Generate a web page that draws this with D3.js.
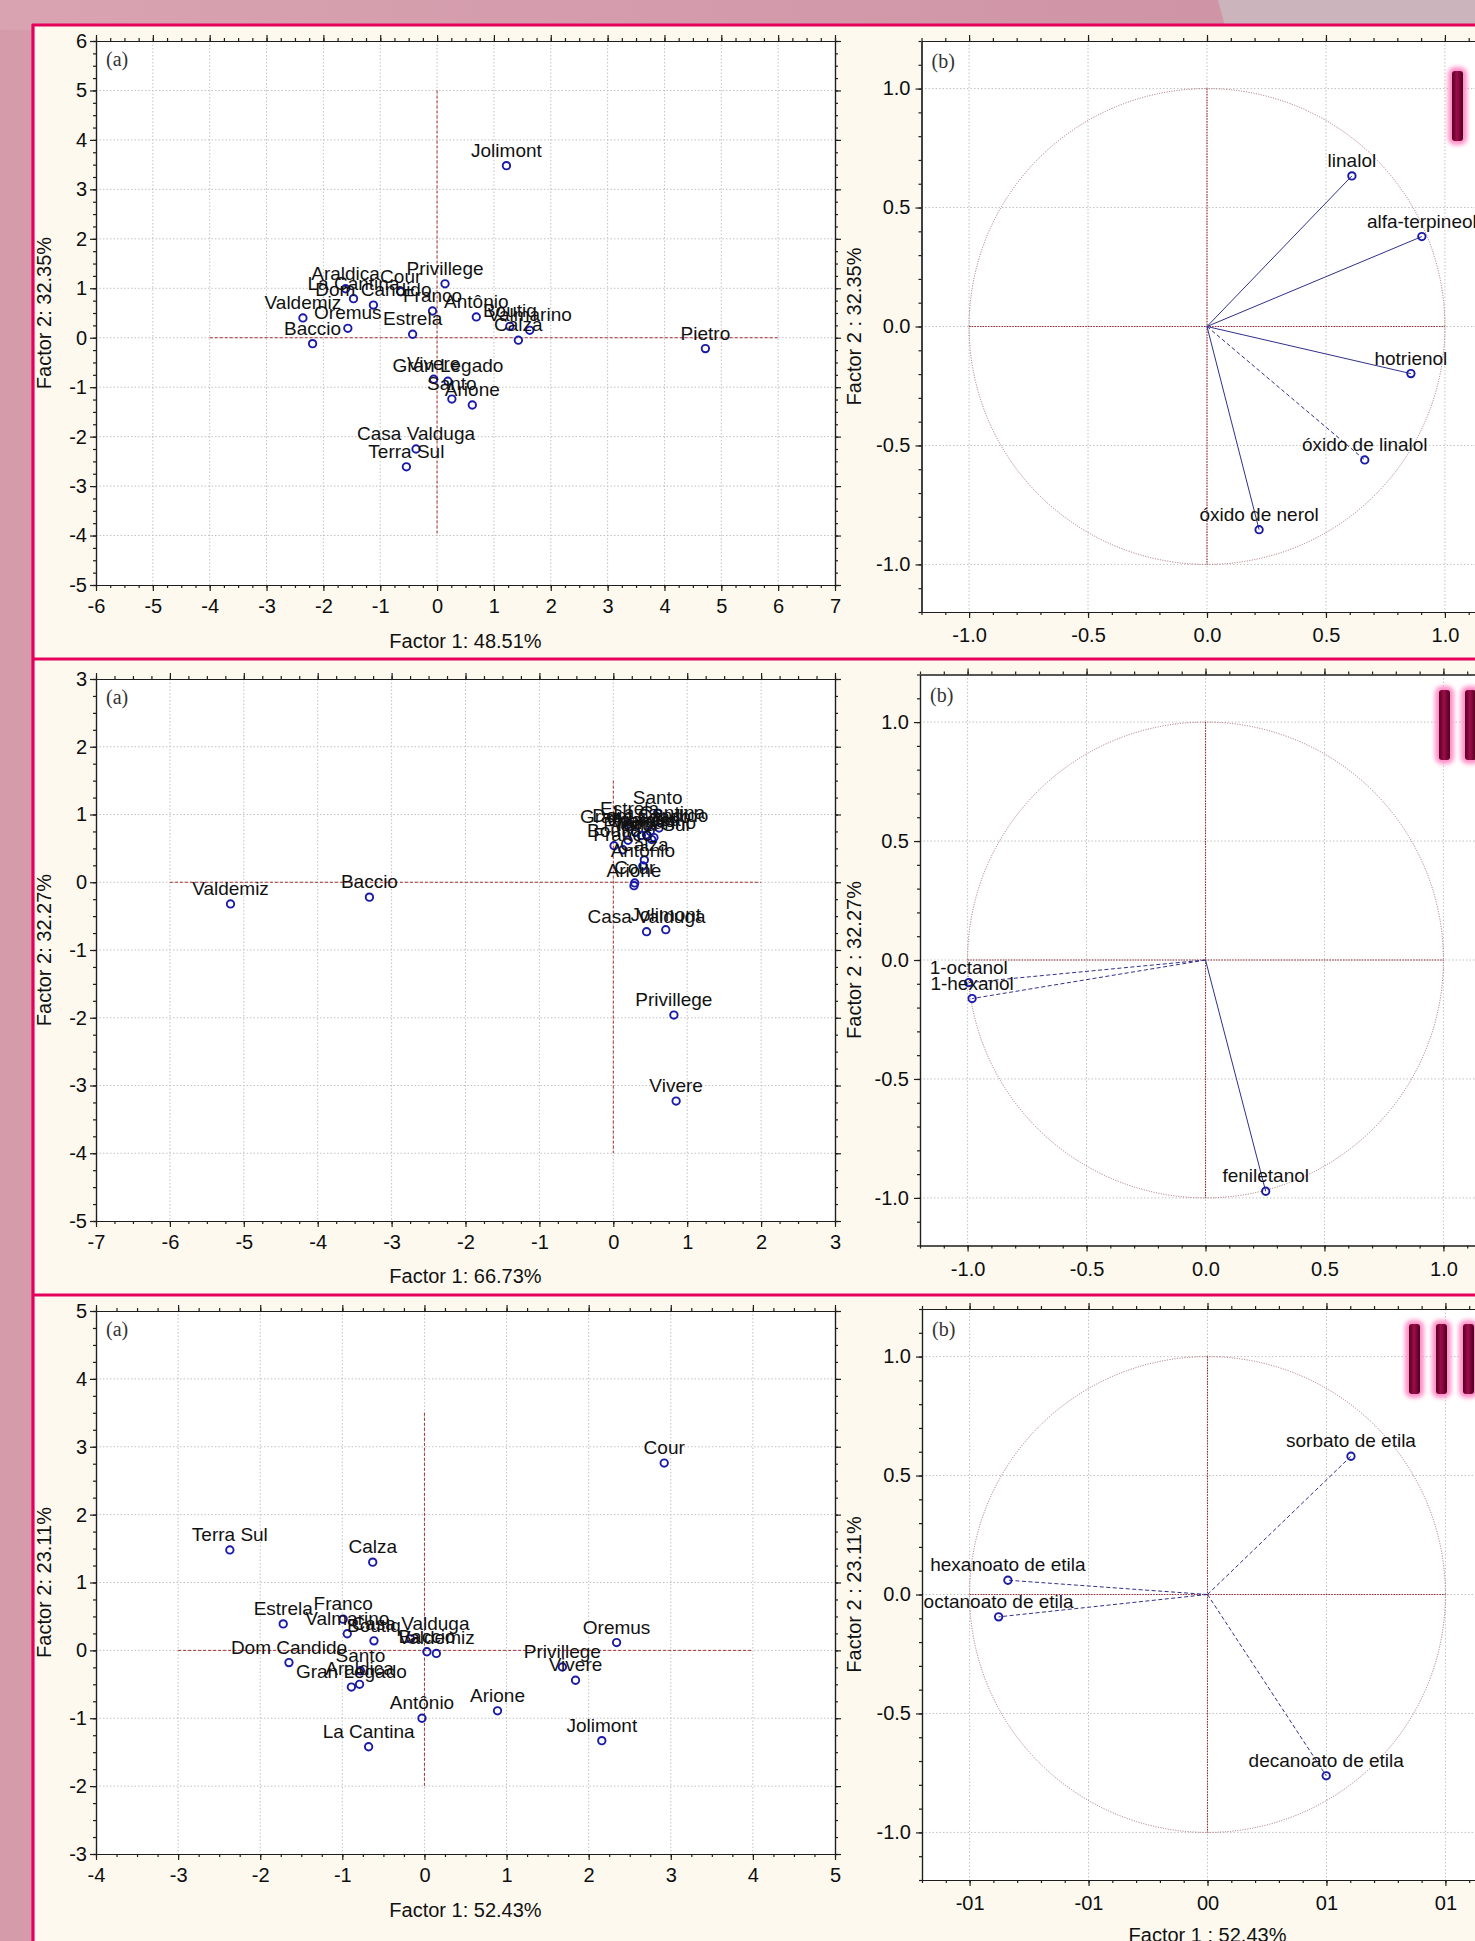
<!DOCTYPE html>
<html>
<head>
<meta charset="utf-8">
<title>PCA scores and loadings</title>
<script src="https://d3js.org/d3.v7.min.js"></script>
<style>
  body { margin: 0; background: #d59bab; }
  svg { display: block; font-family: "Liberation Sans", Arial, sans-serif; }
  .tick text { font-size: 20px; fill: #0e0e0e; }
  .axis path, .axis line { stroke: #1e1e1e; stroke-width: 1.2px; }
  .grid line { stroke: #c2c2c2; stroke-width: 1px; stroke-dasharray: 1.5, 2; }
  .ref { stroke: #a33434; stroke-width: 1px; stroke-dasharray: 3, 2; fill: none; }
  .pt { fill: none; stroke: #1a1aa8; stroke-width: 1.9px; }
  .lbl { font-size: 19px; fill: #111; text-anchor: middle; }
  .title { font-size: 20px; fill: #111; text-anchor: middle; }
  .tag { font-family: "Liberation Serif", "DejaVu Serif", serif; font-size: 20px; fill: #333; }
  .load { stroke: #30308a; stroke-width: 1px; fill: none; }
</style>
</head>
<body>
<div id="chart"></div>
<script>
// ---------- panel I : scores ----------
const winesI = ["Jolimont", "Pietro", "Privillege", "Araldica", "La Cantina", "Dom Candido", "Cour",
  "Franco", "Antônio", "Estrela", "Valdemiz", "Oremus", "Baccio", "Boutiq", "Valmarino", "Calza",
  "Gran Legado", "Vivere", "Santo", "Arione", "Casa Valduga", "Terra Sul"];
const f1I = [1.22, 4.72, 0.14, -1.61, -1.47, -1.12, -0.64, -0.08, 0.69, -0.43, -2.36, -1.57, -2.19,
  1.28, 1.63, 1.43, 0.19, -0.06, 0.26, 0.62, -0.37, -0.54];
const f2I = [3.48, -0.22, 1.09, 0.99, 0.79, 0.66, 0.93, 0.54, 0.42, 0.07, 0.40, 0.19, -0.12,
  0.23, 0.15, -0.05, -0.88, -0.84, -1.24, -1.36, -2.25, -2.61];

// ---------- panel II : scores ----------
const winesII = ["Valdemiz", "Baccio", "Privillege", "Vivere", "Casa Valduga", "Jolimont", "Santo",
  "Estrela", "La Cantina", "Gran Legado", "Oremus", "Dom Candido", "Araldica", "Valmarino", "Pietro",
  "Terra Sul", "Boutiq", "Franco", "Antônio", "Calza", "Cour", "Arione"];
const f1II = [-5.18, -3.30, 0.82, 0.85, 0.45, 0.71, 0.60, 0.22, 0.62, 0.30, 0.38, 0.50, 0.45, 0.55,
  0.20, 0.52, 0.01, 0.13, 0.40, 0.42, 0.29, 0.28];
const f2II = [-0.32, -0.22, -1.96, -3.23, -0.73, -0.70, 1.02, 0.86, 0.80, 0.74, 0.69, 0.75, 0.70, 0.66,
  0.62, 0.63, 0.54, 0.48, 0.24, 0.33, -0.01, -0.05];

// ---------- panel III : scores ----------
const winesIII = ["Cour", "Terra Sul", "Calza", "Estrela", "Franco", "Valmarino", "Boutiq", "Casa Valduga",
  "Baccio", "Valdemiz", "Dom Candido", "Santo", "Araldica", "Gran Legado", "Antônio", "La Cantina",
  "Arione", "Privillege", "Vivere", "Oremus", "Jolimont"];
const f1III = [2.92, -2.37, -0.63, -1.72, -0.99, -0.94, -0.615, -0.17, 0.03, 0.145, -1.65, -0.78, -0.79,
  -0.89, -0.03, -0.68, 0.89, 1.68, 1.84, 2.34, 2.16];
const f2III = [2.76, 1.48, 1.30, 0.39, 0.46, 0.245, 0.14, 0.17, -0.02, -0.045, -0.18, -0.30, -0.50,
  -0.54, -1.00, -1.42, -0.89, -0.245, -0.44, 0.115, -1.33];

// ---------- loadings ----------
const varsI = ["linalol", "alfa-terpineol", "hotrienol", "óxido de linalol", "óxido de nerol"];
const l1I = [0.609, 0.903, 0.857, 0.663, 0.219];
const l2I = [0.633, 0.378, -0.198, -0.561, -0.854];
const dashI = [false, false, false, true, false];

const varsII = ["1-octanol", "1-hexanol", "feniletanol"];
const l1II = [-0.995, -0.981, 0.253];
const l2II = [-0.095, -0.162, -0.972];
const dashII = [true, true, false];

const varsIII = ["sorbato de etila", "hexanoato de etila", "octanoato de etila", "decanoato de etila"];
const l1III = [0.603, -0.839, -0.878, 0.499];
const l2III = [0.581, 0.060, -0.094, -0.762];
const dashIII = [true, true, true, true];

// axis texts
const scoreXTitles = ["Factor 1: 48.51%", "Factor 1: 66.73%", "Factor 1: 52.43%"];
const scoreYTitles = ["Factor 2: 32.35%", "Factor 2: 32.27%", "Factor 2: 23.11%"];
const loadYTitles = ["Factor 2 : 32.35%", "Factor 2 : 32.27%", "Factor 2 : 23.11%"];
const loadTickVals = [-1, -0.5, 0, 0.5, 1];
const loadXLabelsIII = ["-01", "-01", "00", "01", "01"];

const W = 1475, H = 1941;
const svg = d3.select("#chart").append("svg").attr("width", W).attr("height", H);
const defs = svg.append("defs");

// page background
const bg = defs.append("linearGradient").attr("id", "bgTop").attr("x1", 0).attr("x2", 1);
bg.append("stop").attr("offset", "0").attr("stop-color", "#d9a3b1");
bg.append("stop").attr("offset", "0.8").attr("stop-color", "#cf95a6");
svg.append("rect").attr("width", W).attr("height", H).attr("fill", "#d59bab");
svg.append("rect").attr("width", W).attr("height", 30).attr("fill", "url(#bgTop)");
svg.append("path").attr("d", "M1218,0 L1475,0 L1475,30 L1226,30 Z").attr("fill", "#cbb4bb");

// cream panels with magenta frames
svg.append("rect").attr("x", 33).attr("y", 25).attr("width", W).attr("height", H).attr("fill", "#fdf9ef");
const frame = svg.append("g").attr("stroke", "#e6005c").attr("stroke-width", 3.2);
[25, 659, 1295].forEach(yy => frame.append("line").attr("x1", 32).attr("x2", W).attr("y1", yy).attr("y2", yy));
frame.append("line").attr("x1", 33).attr("x2", 33).attr("y1", 24).attr("y2", H);

const glow = defs.append("filter").attr("id", "glow").attr("x", "-1").attr("y", "-1").attr("width", 3).attr("height", 3);
glow.append("feGaussianBlur").attr("stdDeviation", 2.2);
const barGrad = defs.append("linearGradient").attr("id", "barGrad").attr("x1", 0).attr("x2", 1);
barGrad.append("stop").attr("offset", "0").attr("stop-color", "#55001f");
barGrad.append("stop").attr("offset", "0.45").attr("stop-color", "#a00c4c");
barGrad.append("stop").attr("offset", "1").attr("stop-color", "#4a001c");

function frameAxes(g, x, y, box, o) {
  const ax = (axis, tr) => g.append("g").attr("class", "axis").attr("transform", tr).call(axis);
  ax(d3.axisBottom(x).tickValues(o.minX).tickSize(3).tickSizeOuter(0).tickFormat(""), `translate(0,${box.y1})`);
  ax(d3.axisTop(x).tickValues(o.minX).tickSize(3).tickSizeOuter(0).tickFormat(""), `translate(0,${box.y0})`);
  ax(d3.axisLeft(y).tickValues(o.minY).tickSize(3).tickSizeOuter(0).tickFormat(""), `translate(${box.x0},0)`);
  ax(d3.axisRight(y).tickValues(o.minY).tickSize(3).tickSizeOuter(0).tickFormat(""), `translate(${box.x1},0)`);
  ax(d3.axisBottom(x).tickValues(o.majX).tickSize(6).tickSizeOuter(0).tickPadding(o.padX).tickFormat(o.fmtX), `translate(0,${box.y1})`);
  ax(d3.axisTop(x).tickValues(o.majX).tickSize(6).tickSizeOuter(0).tickFormat(""), `translate(0,${box.y0})`);
  ax(d3.axisLeft(y).tickValues(o.majY).tickSize(6).tickSizeOuter(0).tickPadding(o.padY).tickFormat(o.fmtY), `translate(${box.x0},0)`);
  ax(d3.axisRight(y).tickValues(o.majY).tickSize(6).tickSizeOuter(0).tickFormat(""), `translate(${box.x1},0)`);
}

function grid(g, x, y, box, gx, gy) {
  const gg = g.append("g").attr("class", "grid");
  gg.selectAll(".gx").data(gx).join("line").attr("class", "gx")
    .attr("x1", d => x(d)).attr("x2", d => x(d)).attr("y1", box.y0).attr("y2", box.y1);
  gg.selectAll(".gy").data(gy).join("line").attr("class", "gy")
    .attr("y1", d => y(d)).attr("y2", d => y(d)).attr("x1", box.x0).attr("x2", box.x1);
}

function scorePanel(p) {
  const g = svg.append("g");
  const box = p.box;
  const x = d3.scaleLinear().domain(p.xDom).range([box.x0, box.x1]);
  const y = d3.scaleLinear().domain(p.yDom).range([box.y1, box.y0]);
  g.append("rect").attr("x", box.x0).attr("y", box.y0).attr("width", box.x1 - box.x0)
    .attr("height", box.y1 - box.y0).attr("fill", "#fff");
  const majX = d3.range(p.xDom[0], p.xDom[1] + 0.01, 1);
  const majY = d3.range(p.yDom[0], p.yDom[1] + 0.01, 1);
  grid(g, x, y, box, majX.slice(1, -1), majY.slice(1, -1));
  g.append("line").attr("class", "ref").attr("x1", x(p.refH[0])).attr("x2", x(p.refH[1]))
    .attr("y1", y(0)).attr("y2", y(0));
  g.append("line").attr("class", "ref").attr("x1", x(0)).attr("x2", x(0))
    .attr("y1", y(p.refV[0])).attr("y2", y(p.refV[1]));
  frameAxes(g, x, y, box, {
    majX, majY,
    minX: d3.range(p.xDom[0] * 4, p.xDom[1] * 4 + 1).map(d => d / 4),
    minY: d3.range(p.yDom[0] * 4, p.yDom[1] * 4 + 1).map(d => d / 4),
    padX: 8, padY: 3, fmtX: d => String(d), fmtY: d => String(d)
  });
  g.append("text").attr("class", "tag").attr("x", box.x0 + 10).attr("y", box.y0 + 25).text("(a)");
  g.append("text").attr("class", "title").attr("x", (box.x0 + box.x1) / 2).attr("y", p.titleY).text(p.xTitle);
  g.append("text").attr("class", "title").attr("transform", `translate(44,${(box.y0 + box.y1) / 2}) rotate(-90)`)
    .attr("dy", "0.35em").text(p.yTitle);
  const pts = p.names.map((n, i) => ({ n, a: p.f1[i], b: p.f2[i] }));
  g.selectAll(".pt").data(pts).join("circle").attr("class", "pt")
    .attr("cx", d => x(d.a)).attr("cy", d => y(d.b)).attr("r", 3.7);
  g.selectAll(".lbl").data(pts).join("text").attr("class", "lbl")
    .attr("x", d => x(d.a)).attr("y", d => y(d.b) - 9).text(d => d.n);
}

function loadPanel(p) {
  const g = svg.append("g");
  const s = 571;
  const box = { x0: p.left, x1: p.left + s, y0: p.top, y1: p.top + s };
  const x = d3.scaleLinear().domain([-1.2, 1.2]).range([box.x0, box.x1]);
  const y = d3.scaleLinear().domain([-1.2, 1.2]).range([box.y1, box.y0]);
  g.append("rect").attr("x", box.x0).attr("y", box.y0).attr("width", s).attr("height", s).attr("fill", "#fff");
  grid(g, x, y, box, loadTickVals, loadTickVals);
  const minor = d3.range(-12, 13).map(d => d / 10);
  frameAxes(g, x, y, box, {
    majX: loadTickVals, majY: loadTickVals, minX: minor, minY: minor,
    padX: 10, padY: 5, fmtX: p.fmtX, fmtY: d => d.toFixed(1)
  });
  // unit circle and cross
  g.append("circle").attr("cx", x(0)).attr("cy", y(0)).attr("r", x(1) - x(0))
    .attr("fill", "none").attr("stroke", "#a86a70").attr("stroke-width", 1).attr("stroke-dasharray", "1,1.5");
  g.append("line").attr("x1", x(-1)).attr("x2", x(1)).attr("y1", y(0)).attr("y2", y(0))
    .attr("stroke", "#962a36").attr("stroke-width", 1.1).attr("stroke-dasharray", "1.5,1.2");
  g.append("line").attr("x1", x(0)).attr("x2", x(0)).attr("y1", y(1)).attr("y2", y(-1))
    .attr("stroke", "#962a36").attr("stroke-width", 1.1).attr("stroke-dasharray", "1.5,1.2");
  g.append("text").attr("class", "tag").attr("x", box.x0 + 10).attr("y", box.y0 + 27).text("(b)");
  g.append("text").attr("class", "title").attr("transform", `translate(854,${(box.y0 + box.y1) / 2}) rotate(-90)`)
    .attr("dy", "0.35em").text(p.yTitle);
  if (p.xTitle) g.append("text").attr("class", "title").attr("x", x(0)).attr("y", box.y1 + 62).text(p.xTitle);
  const pts = p.names.map((n, i) => ({ n, a: p.l1[i], b: p.l2[i], dash: p.dash[i] }));
  g.selectAll(".load").data(pts).join("line").attr("class", "load")
    .attr("x1", x(0)).attr("y1", y(0)).attr("x2", d => x(d.a)).attr("y2", d => y(d.b))
    .attr("stroke-dasharray", d => d.dash ? "4,2.5" : null);
  g.selectAll(".pt").data(pts).join("circle").attr("class", "pt")
    .attr("cx", d => x(d.a)).attr("cy", d => y(d.b)).attr("r", 3.7);
  g.selectAll(".lbl").data(pts).join("text").attr("class", "lbl")
    .attr("x", d => x(d.a)).attr("y", d => y(d.b) - 9).text(d => d.n);
  // roman numeral badge
  p.bars.forEach(bx => {
    g.append("rect").attr("x", bx - 4).attr("y", p.barY - 4).attr("width", 19).attr("height", 78)
      .attr("rx", 7).attr("fill", "#ff8fc8").attr("filter", "url(#glow)");
    g.append("rect").attr("x", bx).attr("y", p.barY).attr("width", 11).attr("height", 70)
      .attr("rx", 3).attr("fill", "url(#barGrad)");
  });
}

const scoreBoxes = [
  { x0: 96, x1: 835, y0: 41, y1: 585, t: 648 },
  { x0: 96, x1: 835, y0: 679, y1: 1221, t: 1283 },
  { x0: 96, x1: 835, y0: 1311, y1: 1854, t: 1917 }
];

scorePanel({ box: scoreBoxes[0], xDom: [-6, 7], yDom: [-5, 6], refH: [-4, 6], refV: [5, -4],
  names: winesI, f1: f1I, f2: f2I, xTitle: scoreXTitles[0], yTitle: scoreYTitles[0], titleY: scoreBoxes[0].t });
scorePanel({ box: scoreBoxes[1], xDom: [-7, 3], yDom: [-5, 3], refH: [-6, 2], refV: [1.5, -4],
  names: winesII, f1: f1II, f2: f2II, xTitle: scoreXTitles[1], yTitle: scoreYTitles[1], titleY: scoreBoxes[1].t });
scorePanel({ box: scoreBoxes[2], xDom: [-4, 5], yDom: [-3, 5], refH: [-3, 4], refV: [3.5, -2],
  names: winesIII, f1: f1III, f2: f2III, xTitle: scoreXTitles[2], yTitle: scoreYTitles[2], titleY: scoreBoxes[2].t });

loadPanel({ left: 921.5, top: 41, names: varsI, l1: l1I, l2: l2I, dash: dashI,
  yTitle: loadYTitles[0], fmtX: d => d.toFixed(1), bars: [1452], barY: 71 });
loadPanel({ left: 920, top: 674.5, names: varsII, l1: l1II, l2: l2II, dash: dashII,
  yTitle: loadYTitles[1], fmtX: d => d.toFixed(1), bars: [1439, 1465], barY: 690 });
loadPanel({ left: 922, top: 1309, names: varsIII, l1: l1III, l2: l2III, dash: dashIII,
  yTitle: loadYTitles[2], fmtX: (d, i) => loadXLabelsIII[i], xTitle: "Factor 1 : 52.43%",
  bars: [1409, 1436, 1463], barY: 1324 });
</script>
</body>
</html>
